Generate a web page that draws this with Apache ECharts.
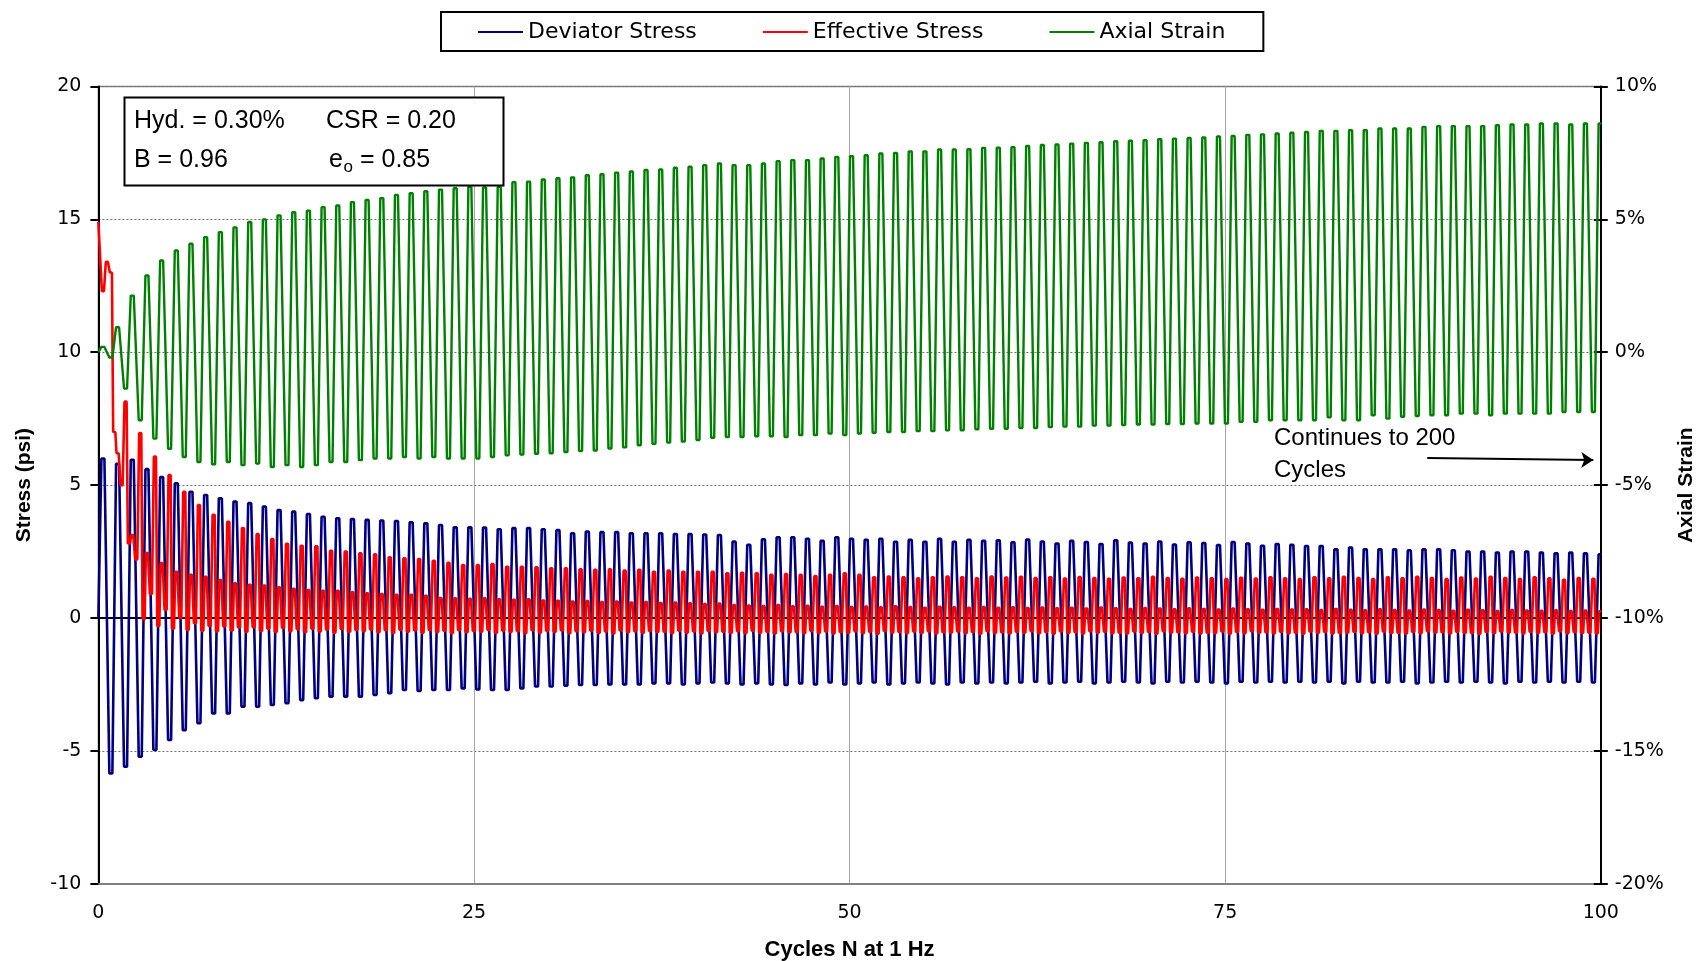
<!DOCTYPE html>
<html>
<head>
<meta charset="utf-8">
<title>Cyclic triaxial test</title>
<script src="https://cdn.jsdelivr.net/npm/echarts@6/dist/echarts.min.js"></script>
<style>
  html, body { margin: 0; padding: 0; background: #fff; }
  #chart { width: 1696px; height: 961px; }
</style>
</head>
<body>
<div id="chart"></div>
<script>
// Loading timeline: first compression peak (s), cycle period (s), lag from peak to extension trough (s)
const cycleStart = 0.3;
const cyclePeriod = 0.977;
const troughLag = 0.53;

// Deviator stress (psi): value at t = 0, then compression peak / extension trough of every cycle
const devStart = 0;
const devPeak = [
  6.0, 5.8, 5.95, 5.6, 5.3, 5.07, 4.75, 4.63, 4.5, 4.38,
  4.32, 4.19, 4.06, 4.0, 3.91, 3.81, 3.75, 3.72, 3.69, 3.67,
  3.65, 3.6, 3.56, 3.5, 3.41, 3.41, 3.4, 3.34, 3.38, 3.38,
  3.34, 3.31, 3.19, 3.25, 3.23, 3.23, 3.19, 3.19, 3.19, 3.16,
  3.16, 3.14, 3.12, 2.88, 2.75, 2.96, 3.04, 3.04, 2.98, 2.9,
  3.04, 2.98, 2.94, 2.98, 2.87, 2.94, 2.87, 2.98, 2.87, 2.94,
  2.9, 2.92, 2.85, 2.95, 2.88, 2.8, 2.9, 2.86, 2.78, 2.92,
  2.84, 2.8, 2.88, 2.76, 2.85, 2.82, 2.74, 2.86, 2.8, 2.72,
  2.78, 2.75, 2.71, 2.71, 2.58, 2.65, 2.58, 2.58, 2.58, 2.55,
  2.58, 2.58, 2.55, 2.5, 2.5, 2.46, 2.5, 2.5, 2.46, 2.43,
  2.46, 2.43, 2.4
];
const devTrough = [
  -5.85, -5.6, -5.22, -4.97, -4.59, -4.22, -3.96, -3.59, -3.59, -3.34,
  -3.34, -3.27, -3.21, -3.09, -3.02, -2.96, -2.96, -2.96, -2.9, -2.83,
  -2.71, -2.75, -2.71, -2.71, -2.65, -2.69, -2.71, -2.71, -2.65, -2.58,
  -2.58, -2.55, -2.52, -2.52, -2.5, -2.5, -2.5, -2.46, -2.46, -2.5,
  -2.46, -2.43, -2.46, -2.5, -2.46, -2.5, -2.52, -2.46, -2.5, -2.43,
  -2.5, -2.46, -2.43, -2.5, -2.46, -2.43, -2.46, -2.5, -2.43, -2.46,
  -2.43, -2.46, -2.43, -2.4, -2.46, -2.43, -2.4, -2.46, -2.43, -2.4,
  -2.43, -2.46, -2.4, -2.43, -2.4, -2.43, -2.46, -2.4, -2.43, -2.4,
  -2.43, -2.4, -2.43, -2.4, -2.46, -2.4, -2.43, -2.43, -2.4, -2.46,
  -2.43, -2.4, -2.43, -2.4, -2.43, -2.46, -2.4, -2.43, -2.4, -2.43,
  -2.4, -2.43
];

// Effective stress (psi): value at t = 0, then per cycle the level at the compression peak,
// the low before extension, the extension peak and the low after it
const effStart = 14.9;
const effSmall = [
  12.3, 6.2, 3.12, 2.44, 2.07, 1.74, 1.62, 1.55, 1.43, 1.3,
  1.25, 1.22, 1.15, 1.1, 1.05, 1.02, 1.02, 0.97, 0.93, 0.9,
  0.87, 0.87, 0.83, 0.75, 0.74, 0.72, 0.74, 0.7, 0.68, 0.7,
  0.66, 0.65, 0.62, 0.64, 0.6, 0.62, 0.58, 0.6, 0.56, 0.58,
  0.55, 0.52, 0.54, 0.49, 0.47, 0.45, 0.49, 0.44, 0.46, 0.42,
  0.45, 0.41, 0.43, 0.4, 0.44, 0.41, 0.38, 0.42, 0.4, 0.38,
  0.41, 0.38, 0.4, 0.37, 0.39, 0.36, 0.38, 0.35, 0.39, 0.36,
  0.34, 0.37, 0.35, 0.33, 0.36, 0.34, 0.32, 0.35, 0.33, 0.31,
  0.34, 0.32, 0.33, 0.3, 0.34, 0.31, 0.29, 0.33, 0.3, 0.28,
  0.32, 0.3, 0.27, 0.31, 0.29, 0.26, 0.3, 0.28, 0.27, 0.29,
  0.26, 0.28, 0.25
];
const effLowA = [
  13.4, 5.0, 2.2, 0.9, 0.3, 0.0, -0.2, -0.3, -0.32, -0.36,
  -0.35, -0.4, -0.38, -0.42, -0.4, -0.44, -0.41, -0.45, -0.43, -0.46,
  -0.44, -0.47, -0.45, -0.48, -0.46, -0.49, -0.45, -0.48, -0.5, -0.46,
  -0.49, -0.47, -0.5, -0.48, -0.51, -0.47, -0.5, -0.49, -0.52, -0.48,
  -0.51, -0.49, -0.52, -0.5, -0.48, -0.52, -0.5, -0.53, -0.49, -0.51,
  -0.53, -0.5, -0.52, -0.49, -0.53, -0.51, -0.5, -0.54, -0.51, -0.53,
  -0.5, -0.54, -0.52, -0.5, -0.53, -0.51, -0.54, -0.5, -0.52, -0.55,
  -0.51, -0.53, -0.5, -0.54, -0.52, -0.55, -0.51, -0.53, -0.5, -0.54,
  -0.52, -0.55, -0.51, -0.53, -0.56, -0.52, -0.54, -0.51, -0.55, -0.53,
  -0.5, -0.54, -0.52, -0.56, -0.53, -0.51, -0.55, -0.52, -0.54, -0.5,
  -0.53, -0.55
];
const effBig = [
  13.0, 8.14, 6.96, 6.07, 5.38, 4.75, 4.25, 3.88, 3.62, 3.38,
  3.16, 2.97, 2.79, 2.72, 2.7, 2.53, 2.5, 2.43, 2.4, 2.28,
  2.25, 2.22, 2.15, 2.08, 1.99, 1.99, 2.03, 1.93, 1.93, 1.91,
  1.87, 1.87, 1.83, 1.81, 1.83, 1.78, 1.81, 1.74, 1.78, 1.74,
  1.74, 1.74, 1.68, 1.7, 1.68, 1.62, 1.65, 1.62, 1.58, 1.62,
  1.68, 1.62, 1.53, 1.56, 1.53, 1.49, 1.53, 1.56, 1.53, 1.49,
  1.56, 1.52, 1.55, 1.5, 1.53, 1.48, 1.54, 1.5, 1.47, 1.52,
  1.49, 1.55, 1.5, 1.47, 1.52, 1.49, 1.46, 1.51, 1.48, 1.53,
  1.49, 1.46, 1.53, 1.49, 1.55, 1.5, 1.46, 1.53, 1.49, 1.55,
  1.5, 1.46, 1.52, 1.48, 1.55, 1.5, 1.46, 1.53, 1.49, 1.44,
  1.5, 1.47
];
const effLowB = [
  7.0, 2.8, -0.05, -0.3, -0.4, -0.45, -0.48, -0.5, -0.47, -0.52,
  -0.49, -0.53, -0.5, -0.54, -0.51, -0.55, -0.52, -0.5, -0.54, -0.56,
  -0.52, -0.55, -0.53, -0.57, -0.54, -0.52, -0.56, -0.53, -0.57, -0.55,
  -0.53, -0.57, -0.54, -0.56, -0.58, -0.54, -0.56, -0.53, -0.57, -0.55,
  -0.58, -0.54, -0.56, -0.57, -0.55, -0.58, -0.54, -0.57, -0.56, -0.58,
  -0.55, -0.57, -0.59, -0.55, -0.57, -0.56, -0.58, -0.55, -0.57, -0.59,
  -0.56, -0.58, -0.55, -0.57, -0.59, -0.56, -0.58, -0.55, -0.57, -0.58,
  -0.56, -0.59, -0.55, -0.57, -0.58, -0.56, -0.59, -0.57, -0.55, -0.58,
  -0.57, -0.59, -0.56, -0.58, -0.55, -0.57, -0.59, -0.56, -0.58, -0.57,
  -0.55, -0.58, -0.56, -0.59, -0.57, -0.55, -0.58, -0.56, -0.59, -0.57,
  -0.56, -0.58
];

// Axial strain (%): value at t = 0, then peak / trough of every cycle
const strainStart = 0;
const strainPeak = [
  0.2, 0.94, 2.13, 2.89, 3.45, 3.83, 4.08, 4.33, 4.52, 4.7,
  4.9, 5.0, 5.15, 5.27, 5.33, 5.46, 5.52, 5.65, 5.73, 5.8,
  5.92, 5.98, 6.06, 6.12, 6.17, 6.23, 6.2, 6.23, 6.4, 6.42,
  6.5, 6.55, 6.58, 6.66, 6.7, 6.76, 6.8, 6.86, 6.88, 6.94,
  6.98, 7.04, 7.1, 7.04, 7.04, 7.1, 7.19, 7.23, 7.23, 7.29,
  7.35, 7.38, 7.41, 7.48, 7.5, 7.56, 7.56, 7.63, 7.63, 7.64,
  7.69, 7.7, 7.72, 7.76, 7.8, 7.82, 7.85, 7.88, 7.9, 7.94,
  7.96, 7.98, 8.02, 8.04, 8.06, 8.08, 8.12, 8.14, 8.18, 8.2,
  8.23, 8.26, 8.29, 8.33, 8.33, 8.36, 8.36, 8.42, 8.42, 8.42,
  8.48, 8.51, 8.51, 8.51, 8.51, 8.54, 8.57, 8.57, 8.61, 8.61,
  8.57, 8.61, 8.61
];
const strainTrough = [
  -0.2, -1.37, -2.56, -3.25, -3.63, -3.94, -4.13, -4.22, -4.13, -4.25,
  -4.19, -4.32, -4.25, -4.32, -4.25, -4.13, -4.13, -4.06, -4.0, -4.0,
  -3.94, -4.0, -3.94, -4.0, -4.0, -4.0, -3.94, -3.88, -3.85, -3.82,
  -3.8, -3.76, -3.72, -3.7, -3.62, -3.58, -3.5, -3.45, -3.4, -3.36,
  -3.3, -3.22, -3.19, -3.19, -3.16, -3.16, -3.19, -3.12, -3.12, -3.06,
  -3.12, -3.06, -3.03, -3.0, -3.0, -2.97, -2.97, -2.94, -2.94, -2.9,
  -2.88, -2.88, -2.85, -2.85, -2.82, -2.8, -2.8, -2.76, -2.76, -2.74,
  -2.72, -2.72, -2.7, -2.7, -2.68, -2.68, -2.68, -2.62, -2.62, -2.56,
  -2.56, -2.56, -2.56, -2.45, -2.56, -2.56, -2.37, -2.5, -2.43, -2.4,
  -2.37, -2.37, -2.31, -2.31, -2.37, -2.31, -2.31, -2.31, -2.31, -2.25,
  -2.25, -2.25
];

// Arrow beside the "continues" note, in (cycles, strain %) coordinates
const arrowFrom = [88.45, -3.98];
const arrowTo = [99.5, -4.06];

const seriesNames = ['Deviator Stress', 'Effective Stress', 'Axial Strain'];
const seriesColors = ['#000080', '#FF0000', '#008000'];

// Each recorded level is held briefly, as the logger samples cluster at the extremes
function holdAt(out, t, v, halfWidth) {
  out.push([t - halfWidth, v], [t + halfWidth, v]);
}

function buildCyclic(start, peaks, troughs) {
  const out = [[0, start]];
  peaks.forEach(function (p, k) {
    const t = cycleStart + cyclePeriod * k;
    holdAt(out, t, p, 0.1);
    if (k < troughs.length) holdAt(out, t + troughLag, troughs[k], 0.1);
  });
  return out;
}

function buildEffective() {
  const out = [[0, effStart]];
  effSmall.forEach(function (v, k) {
    const t = cycleStart + cyclePeriod * k;
    holdAt(out, t, v, 0.07);
    if (k < effBig.length) {
      holdAt(out, t + 0.265, effLowA[k], 0.07);
      holdAt(out, t + troughLag, effBig[k], 0.07);
      holdAt(out, t + 0.755, effLowB[k], 0.07);
    }
  });
  return out;
}

const devData = buildCyclic(devStart, devPeak, devTrough);
const strainData = buildCyclic(strainStart, strainPeak, strainTrough);
const effData = buildEffective();

const chart = echarts.init(document.getElementById('chart'), null, { renderer: 'canvas' });

const tickFont = { color: '#000', fontSize: 19, fontFamily: 'DejaVu Sans' };
const titleFont = { color: '#000', fontSize: 21, fontWeight: 'bold', fontFamily: 'Liberation Sans' };
const noteFont = { fill: '#000', fontSize: 25, fontFamily: 'Liberation Sans', verticalAlign: 'middle', align: 'left' };

chart.setOption({
  animation: false,
  backgroundColor: '#fff',
  textStyle: { fontFamily: 'DejaVu Sans' },
  grid: {
    left: 98.4, right: 95.2, top: 86.5, bottom: 77.3,
    show: true, borderColor: '#808080', borderWidth: 1.5,
    outerBoundsMode: 'none'
  },
  legend: {
    data: seriesNames,
    left: 441, top: 12,
    icon: 'rect',
    itemWidth: 45, itemHeight: 2, itemGap: 66,
    padding: [9, 38, 8, 37],
    borderColor: '#000', borderWidth: 2,
    backgroundColor: '#fff',
    textStyle: { color: '#000', fontSize: 22, fontFamily: 'DejaVu Sans' }
  },
  xAxis: [
    {
      type: 'value', min: 0, max: 100, interval: 25,
      axisLine: { show: true, onZero: false, lineStyle: { color: '#808080', width: 2 } },
      axisTick: { show: false },
      axisLabel: Object.assign({ margin: 20 }, tickFont),
      splitLine: { show: true, lineStyle: { color: '#a6a6a6', width: 1, type: 'solid' } },
      name: 'Cycles N at 1 Hz', nameLocation: 'middle', nameGap: 55,
      nameTextStyle: Object.assign({}, titleFont, { fontSize: 22 })
    },
    {
      // zero line of the stress axis
      type: 'value', min: 0, max: 100, interval: 25, position: 'bottom',
      axisLine: { show: true, onZero: true, onZeroAxisIndex: 0, lineStyle: { color: '#000', width: 2 } },
      axisTick: { show: false }, axisLabel: { show: false }, splitLine: { show: false }
    }
  ],
  yAxis: [
    {
      type: 'value', min: -10, max: 20, interval: 5, position: 'left',
      axisLine: { show: true, onZero: false, lineStyle: { color: '#000', width: 2 } },
      axisTick: { show: true, length: 8, lineStyle: { color: '#000', width: 2 } },
      axisLabel: Object.assign({ margin: 17 }, tickFont),
      splitLine: { show: true, lineStyle: { color: '#707070', width: 1, type: [2, 2] } },
      name: 'Stress (psi)', nameLocation: 'middle', nameGap: 64, nameRotate: 90,
      nameTextStyle: titleFont
    },
    {
      type: 'value', min: -20, max: 10, interval: 5, position: 'right',
      axisLine: { show: true, onZero: false, lineStyle: { color: '#000', width: 2 } },
      axisTick: { show: true, length: 7, lineStyle: { color: '#000', width: 2 } },
      axisLabel: Object.assign({ margin: 14, formatter: function (v) { return v + '%'; } }, tickFont),
      splitLine: { show: false },
      name: 'Axial Strain', nameLocation: 'middle', nameGap: 75, nameRotate: 90,
      nameTextStyle: titleFont
    },
    {
      // inner half of the crossing ticks on the strain axis
      type: 'value', min: -20, max: 10, interval: 5, position: 'right',
      axisLine: { show: false, onZero: false },
      axisTick: { show: true, inside: true, length: 7, lineStyle: { color: '#000', width: 2 } },
      axisLabel: { show: false }, splitLine: { show: false }
    }
  ],
  series: [
    {
      name: seriesNames[0], type: 'line', xAxisIndex: 0, yAxisIndex: 0,
      data: devData, symbol: 'none', silent: true,
      lineStyle: { color: seriesColors[0], width: 2.6 },
      itemStyle: { color: seriesColors[0] }
    },
    {
      name: seriesNames[1], type: 'line', xAxisIndex: 0, yAxisIndex: 0,
      data: effData, symbol: 'none', silent: true,
      lineStyle: { color: seriesColors[1], width: 2.6 },
      itemStyle: { color: seriesColors[1] }
    },
    {
      name: seriesNames[2], type: 'line', xAxisIndex: 0, yAxisIndex: 1,
      data: strainData, symbol: 'none', silent: true,
      lineStyle: { color: seriesColors[2], width: 2.4 },
      itemStyle: { color: seriesColors[2] },
      markLine: {
        silent: true, animation: false,
        symbol: ['none', 'arrow'], symbolSize: 12,
        label: { show: false },
        lineStyle: { color: '#000', width: 2, type: 'solid' },
        emphasis: { disabled: true },
        data: [[{ coord: arrowFrom }, { coord: arrowTo }]]
      }
    }
  ],
  graphic: [
    {
      type: 'rect', z: 100,
      shape: { x: 124.5, y: 97.5, width: 379, height: 88 },
      style: { fill: '#fff', stroke: '#000', lineWidth: 2 }
    },
    { type: 'text', z: 101, x: 134, y: 121, style: Object.assign({ text: 'Hyd. = 0.30%' }, noteFont) },
    { type: 'text', z: 101, x: 326, y: 121, style: Object.assign({ text: 'CSR = 0.20' }, noteFont) },
    { type: 'text', z: 101, x: 134, y: 160, style: Object.assign({ text: 'B = 0.96' }, noteFont) },
    { type: 'text', z: 101, x: 329, y: 160, style: Object.assign({ text: 'e' }, noteFont) },
    { type: 'text', z: 101, x: 343.5, y: 167, style: Object.assign({}, noteFont, { text: 'o', fontSize: 17 }) },
    { type: 'text', z: 101, x: 353, y: 160, style: Object.assign({ text: ' = 0.85' }, noteFont) },
    { type: 'text', z: 101, x: 1274, y: 438, style: Object.assign({}, noteFont, { text: 'Continues to 200', fontSize: 24 }) },
    { type: 'text', z: 101, x: 1274, y: 470, style: Object.assign({}, noteFont, { text: 'Cycles', fontSize: 24 }) }
  ]
});
</script>
</body>
</html>
